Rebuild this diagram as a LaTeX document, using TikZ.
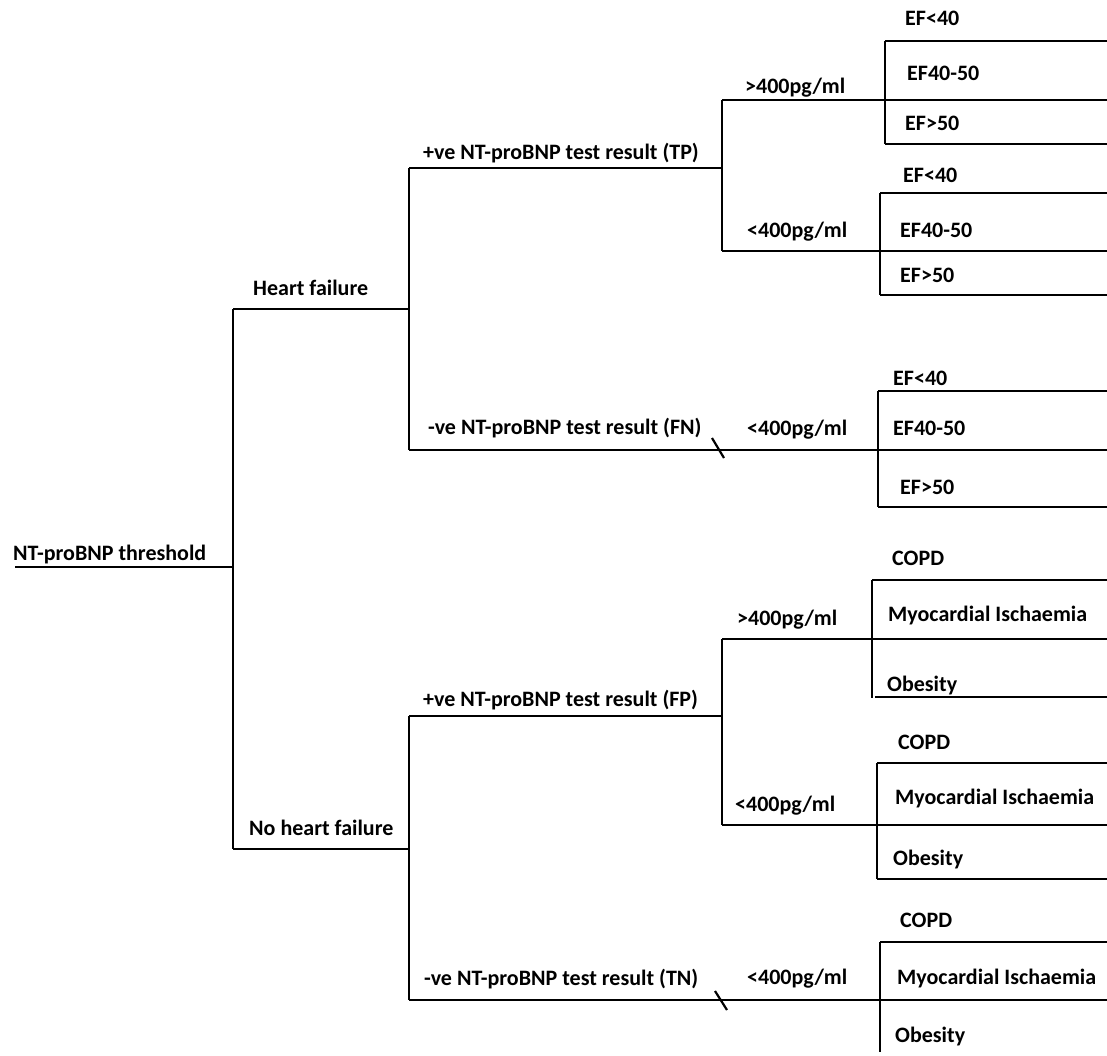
\documentclass[tikz,border=0pt]{standalone}
\usepackage{fontspec}
\setmainfont{Carlito}
\usetikzlibrary{positioning}

\begin{document}
\begin{tikzpicture}[
    x=1pt, y=-1pt,
    every node/.style={
        anchor=base west,
        inner sep=0pt,
        font=\bfseries\fontsize{22}{26}\selectfont
    },
    branch/.style={line width=2.2pt},
    cut/.style={line width=2.2pt}
]
\useasboundingbox (0,0) rectangle (1107,1055);

% ------------------------
% Root
% ------------------------
\coordinate (root) at (15,567);
\coordinate (split) at (233,567);
\node (threshold) at (13,560) {NT-proBNP threshold};
\draw[branch] (root) -- (split);

% ------------------------
% Heart failure / no heart failure
% ------------------------
\coordinate (hf) at (233,309);
\coordinate (nhf) at (233,849);
\coordinate (hfend) at (409,309);
\coordinate (nhfend) at (409,849);
\node (hflabel) at (253,295) {Heart failure};
\node (nhflabel) at (249,835) {No heart failure};
\draw[branch] (hf) -- (nhf);
\draw[branch] (hf) -- (hfend);
\draw[branch] (nhf) -- (nhfend);

% ------------------------
% Test results
% ------------------------
\coordinate (tp) at (409,168);
\coordinate (fn) at (409,450);
\coordinate (fp) at (409,716);
\coordinate (tn) at (409,1000);
\node (tplabel) at (423,159) {+ve NT-proBNP test result (TP)};
\node (fnlabel) at (428,434) {-ve NT-proBNP test result (FN)};
\node (fplabel) at (423,706) {+ve NT-proBNP test result (FP)};
\node (tnlabel) at (424,985) {-ve NT-proBNP test result (TN)};
\draw[branch] (tp) -- (fn);
\draw[branch] (fp) -- (tn);

\coordinate (tpend) at (722,168);
\coordinate (fpend) at (722,716);
\draw[branch] (tp) -- (tpend);
\draw[branch] (fp) -- (fpend);

% ------------------------
% Thresholds
% ------------------------
\coordinate (tphigh) at (722,100);
\coordinate (tplow) at (722,251);
\coordinate (fphigh) at (722,639);
\coordinate (fplow) at (722,825);
\draw[branch] (tphigh) -- (tplow);
\draw[branch] (fphigh) -- (fplow);

\node (tphighlabel) at (745,93) {>400pg/ml};
\node (tplowlabel) at (747,237) {<400pg/ml};
\node (fnlowlabel) at (747,435) {<400pg/ml};
\node (fphighlabel) at (737,625) {>400pg/ml};
\node (fplowlabel) at (735,811) {<400pg/ml};
\node (tnlowlabel) at (747,984) {<400pg/ml};

\draw[branch] (tphigh) -- (1107,100);
\draw[branch] (tplow) -- (1107,251);
\draw[branch] (fn) -- (1107,450);
\draw[branch] (fphigh) -- (1107,639);
\draw[branch] (fplow) -- (1107,825);
\draw[branch] (tn) -- (1107,1000);

% slashes on negative results
\coordinate (fncut) at (718,448);
\coordinate (tncut) at (721,1000);
\draw[cut] ([shift={(-6,-10)}]fncut) -- ([shift={(6,10)}]fncut);
\draw[cut] ([shift={(-6,-9)}]tncut) -- ([shift={(6,10)}]tncut);

% ------------------------
% Ejection fraction boxes
% ------------------------
\draw[branch] (885,41) -- (885,144);
\draw[branch] (885,41) -- (1107,41);
\draw[branch] (885,144) -- (1107,144);
\node (efa1) at (905,25) {EF<40};
\node (efa2) at (907,80) {EF40-50};
\node (efa3) at (905,130) {EF>50};

\draw[branch] (880,193) -- (880,295);
\draw[branch] (880,193) -- (1107,193);
\draw[branch] (880,295) -- (1107,295);
\node (efb1) at (903,182) {EF<40};
\node (efb2) at (900,237) {EF40-50};
\node (efb3) at (900,282) {EF>50};

\draw[branch] (878,391) -- (878,507);
\draw[branch] (878,391) -- (1107,391);
\draw[branch] (878,507) -- (1107,507);
\node (efc1) at (893,385) {EF<40};
\node (efc2) at (893,435) {EF40-50};
\node (efc3) at (900,494) {EF>50};

% ------------------------
% Alternative diagnosis boxes
% ------------------------
\draw[branch] (872,580) -- (872,698);
\draw[branch] (872,580) -- (1107,580);
\draw[branch] (875,697) -- (1107,697);
\node (dxa1) at (892,565) {COPD};
\node (dxa2) at (888,621) {Myocardial Ischaemia};
\node (dxa3) at (887,691) {Obesity};

\draw[branch] (877,763) -- (877,879);
\draw[branch] (877,763) -- (1107,763);
\draw[branch] (877,879) -- (1107,879);
\node (dxb1) at (898,749) {COPD};
\node (dxb2) at (895,804) {Myocardial Ischaemia};
\node (dxb3) at (893,865) {Obesity};

\draw[branch] (880,942) -- (880,1052);
\draw[branch] (880,942) -- (1107,942);
\node (dxc1) at (900,927) {COPD};
\node (dxc2) at (897,984) {Myocardial Ischaemia};
\node (dxc3) at (895,1042) {Obesity};

\end{tikzpicture}
\end{document}
